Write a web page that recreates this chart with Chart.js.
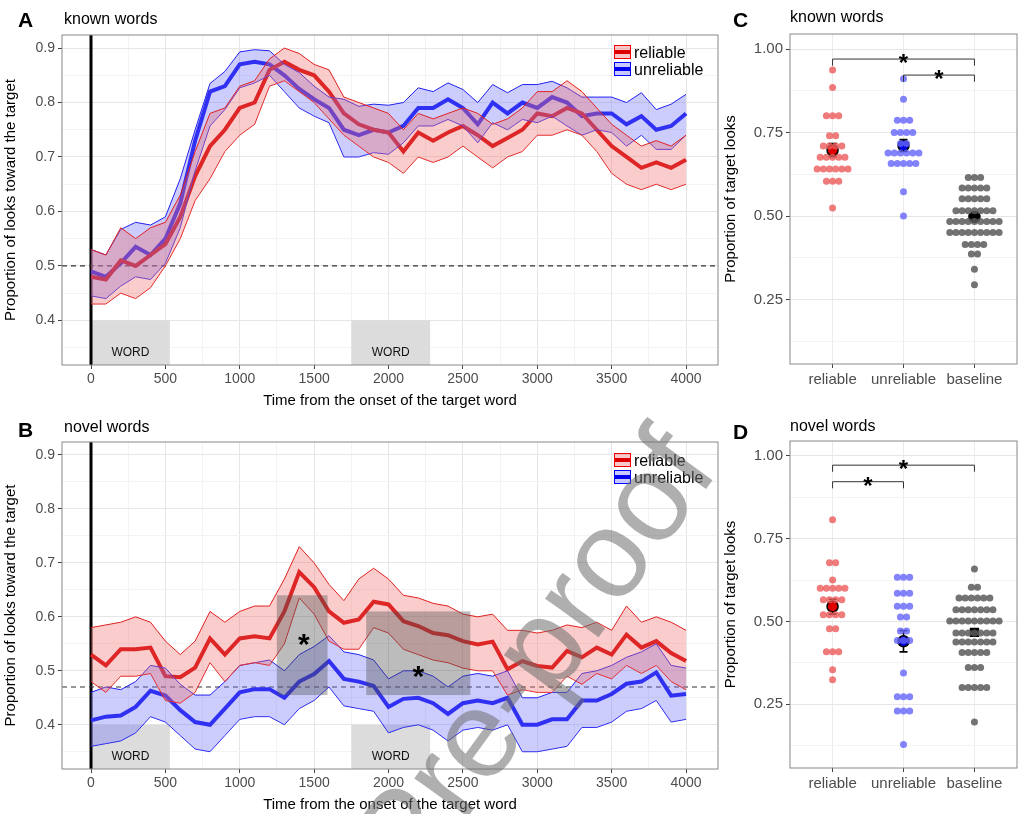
<!DOCTYPE html>
<html lang="en">
<head>
<meta charset="UTF-8">
<title>Looks toward the target</title>
<script src="https://cdn.jsdelivr.net/npm/chart.js"></script>
<style>
  body { margin: 0; background: #fff; font-family: "Liberation Sans", Arial, sans-serif; }
  #wrap { position: relative; width: 1024px; height: 814px; overflow: hidden; }
  canvas { position: absolute; }
  .lab { position: absolute; font-weight: bold; font-size: 21px; }
  .ttl { position: absolute; font-size: 16px; }
  .legend { position: absolute; font-size: 16px; line-height: 17px; }
  .key { display: inline-block; width: 15px; height: 12px; vertical-align: -1px; margin-right: 3px; position: relative; }
  .key i { position: absolute; left: 0; right: 0; top: 4px; height: 4px; }
  #wm { position: absolute; right: 290px; top: 360px; height: 120px; line-height: 120px; font-size: 125px; color: rgba(110,110,110,0.55);
        transform: rotate(-54deg); transform-origin: right bottom; white-space: nowrap; font-family: "Liberation Sans", sans-serif; }
</style>
</head>
<body>
<div id="wrap">
  <canvas id="cA" style="left:0;top:0" width="720" height="410"></canvas>
  <canvas id="cB" style="left:0;top:407px" width="720" height="407"></canvas>
  <canvas id="cC" style="left:720px;top:0" width="304" height="410"></canvas>
  <canvas id="cD" style="left:720px;top:407px" width="304" height="407"></canvas>
  <div class="lab" style="left:18px;top:8px">A</div><div class="ttl" style="left:64px;top:10px">known words</div>
  <div class="lab" style="left:18px;top:418px">B</div><div class="ttl" style="left:64px;top:418px">novel words</div>
  <div class="lab" style="left:733px;top:8px">C</div><div class="ttl" style="left:790px;top:8px">known words</div>
  <div class="lab" style="left:733px;top:420px">D</div><div class="ttl" style="left:790px;top:417px">novel words</div>
  <div class="legend" style="left:614px;top:44px">
    <div><span class="key" style="background:rgba(240,120,120,.4);border:1px solid #e00"><i style="background:#d00"></i></span>reliable</div>
    <div><span class="key" style="background:rgba(120,120,255,.4);border:1px solid #00f"><i style="background:#00e"></i></span>unreliable</div>
  </div>
  <div class="legend" style="left:614px;top:452px">
    <div><span class="key" style="background:rgba(240,120,120,.4);border:1px solid #e00"><i style="background:#d00"></i></span>reliable</div>
    <div><span class="key" style="background:rgba(120,120,255,.4);border:1px solid #00f"><i style="background:#00e"></i></span>unreliable</div>
  </div>
  <div id="wm">Journal Pre-proof</div>
</div>
<script>
// time points (ms)
const times = [0,100,200,300,400,500,600,700,800,900,1000,1100,1200,1300,1400,1500,1600,1700,1800,1900,2000,
  2100,2200,2300,2400,2500,2600,2700,2800,2900,3000,3100,3200,3300,3400,3500,3600,3700,3800,3900,4000];

// A: known words
const aRelMean = [0.48,0.475,0.51,0.50,0.52,0.54,0.59,0.665,0.72,0.75,0.79,0.80,0.86,0.875,0.86,0.85,0.82,0.78,0.76,0.75,0.745,0.71,0.745,0.73,0.745,0.757,0.74,0.72,0.735,0.75,0.78,0.775,0.79,0.78,0.75,0.72,0.70,0.68,0.69,0.68,0.695];
const aRelHi = [0.53,0.52,0.57,0.55,0.57,0.58,0.63,0.71,0.78,0.79,0.83,0.84,0.88,0.90,0.89,0.87,0.86,0.81,0.80,0.79,0.78,0.75,0.78,0.77,0.78,0.79,0.78,0.76,0.77,0.79,0.82,0.82,0.84,0.82,0.79,0.76,0.74,0.72,0.73,0.72,0.74];
const aRelLo = [0.43,0.43,0.45,0.44,0.46,0.50,0.55,0.62,0.66,0.71,0.74,0.76,0.83,0.84,0.82,0.80,0.77,0.74,0.72,0.70,0.69,0.67,0.70,0.69,0.70,0.72,0.70,0.68,0.70,0.71,0.74,0.74,0.75,0.74,0.71,0.67,0.65,0.64,0.65,0.64,0.65];
const aUnrMean = [0.49,0.48,0.505,0.535,0.52,0.55,0.615,0.73,0.82,0.83,0.87,0.875,0.87,0.85,0.825,0.806,0.79,0.75,0.74,0.75,0.745,0.757,0.79,0.79,0.806,0.79,0.76,0.80,0.78,0.80,0.79,0.81,0.80,0.775,0.78,0.78,0.76,0.775,0.75,0.757,0.78];
const aUnrHi = [0.53,0.52,0.567,0.58,0.575,0.59,0.66,0.75,0.835,0.857,0.893,0.897,0.895,0.87,0.855,0.83,0.81,0.806,0.793,0.797,0.795,0.80,0.827,0.82,0.836,0.824,0.80,0.833,0.818,0.833,0.833,0.839,0.827,0.81,0.81,0.81,0.80,0.818,0.787,0.797,0.815];
const aUnrLo = [0.445,0.44,0.463,0.48,0.475,0.505,0.57,0.675,0.757,0.787,0.827,0.836,0.85,0.82,0.79,0.775,0.763,0.70,0.70,0.708,0.705,0.726,0.757,0.757,0.769,0.757,0.726,0.763,0.75,0.769,0.763,0.775,0.757,0.74,0.75,0.745,0.72,0.74,0.714,0.714,0.74];

// B: novel words
const bRelMean = [0.53,0.51,0.54,0.54,0.543,0.49,0.488,0.506,0.56,0.53,0.56,0.564,0.56,0.61,0.683,0.655,0.61,0.589,0.595,0.628,0.623,0.592,0.583,0.57,0.566,0.555,0.549,0.554,0.503,0.518,0.509,0.506,0.537,0.525,0.543,0.53,0.567,0.543,0.555,0.533,0.518];
const bRelHi = [0.58,0.585,0.59,0.60,0.59,0.555,0.53,0.555,0.61,0.59,0.61,0.62,0.62,0.67,0.73,0.70,0.66,0.63,0.67,0.69,0.67,0.64,0.635,0.625,0.62,0.605,0.60,0.605,0.575,0.575,0.57,0.575,0.585,0.58,0.59,0.575,0.62,0.59,0.60,0.59,0.575];
const bRelLo = [0.48,0.46,0.49,0.49,0.495,0.445,0.44,0.46,0.515,0.48,0.51,0.515,0.51,0.55,0.635,0.605,0.555,0.54,0.54,0.58,0.57,0.54,0.53,0.52,0.515,0.505,0.50,0.50,0.455,0.465,0.46,0.46,0.49,0.475,0.495,0.485,0.51,0.495,0.51,0.48,0.465];
const bUnrMean = [0.408,0.415,0.417,0.433,0.463,0.454,0.427,0.405,0.40,0.43,0.46,0.466,0.466,0.45,0.48,0.494,0.518,0.485,0.48,0.472,0.433,0.448,0.45,0.44,0.42,0.44,0.445,0.44,0.45,0.40,0.40,0.41,0.41,0.445,0.445,0.457,0.476,0.48,0.497,0.454,0.457];
const bUnrHi = [0.46,0.47,0.465,0.48,0.51,0.505,0.475,0.455,0.455,0.48,0.51,0.515,0.52,0.50,0.53,0.545,0.565,0.535,0.53,0.52,0.485,0.50,0.50,0.49,0.47,0.49,0.495,0.49,0.50,0.45,0.45,0.46,0.46,0.495,0.50,0.51,0.525,0.535,0.55,0.51,0.505];
const bUnrLo = [0.36,0.365,0.37,0.385,0.415,0.405,0.38,0.355,0.35,0.38,0.41,0.415,0.415,0.40,0.43,0.445,0.47,0.435,0.43,0.425,0.385,0.395,0.40,0.39,0.37,0.39,0.395,0.39,0.40,0.35,0.35,0.355,0.36,0.395,0.395,0.405,0.425,0.43,0.445,0.405,0.41];

const wordWindows = [[0, 530], [1750, 2280]];
const sigWindowsB = [[1250, 1590, 0.455, 0.64], [1850, 2550, 0.455, 0.61]];
const sigStarsB = [[1430, 0.565], [2200, 0.505]];

// C / D: per-child proportions
const groups = ['reliable', 'unreliable', 'baseline'];
const cRel = [0.937,0.885,0.80,0.80,0.80,0.74,0.74,0.71,0.71,0.71,0.71,0.676,0.676,0.676,0.676,0.676,0.641,0.641,0.641,0.641,0.641,0.641,0.604,0.604,0.604,0.524];
const cUnr = [0.911,0.85,0.787,0.787,0.787,0.75,0.75,0.75,0.75,0.717,0.717,0.689,0.689,0.689,0.689,0.689,0.689,0.657,0.657,0.657,0.657,0.657,0.573,0.50];
const cBase = [0.615,0.615,0.615,0.584,0.584,0.584,0.584,0.584,0.552,0.552,0.552,0.552,0.552,0.516,0.516,0.516,0.516,0.516,0.516,0.516,
  0.484,0.484,0.484,0.484,0.484,0.484,0.484,0.484,0.484,0.451,0.451,0.451,0.451,0.451,0.451,0.451,0.451,0.451,0.415,0.415,0.415,0.415,0.386,0.386,0.341,0.294];
const cMeans = [0.697, 0.711, 0.497];
const cErrLo = [0.678, 0.693, 0.490];
const cErrHi = [0.717, 0.729, 0.504];

const dRel = [0.807,0.677,0.677,0.625,0.60,0.60,0.60,0.60,0.60,0.565,0.565,0.565,0.565,0.52,0.52,0.52,0.52,0.478,0.478,0.408,0.408,0.408,0.354,0.324];
const dUnr = [0.633,0.633,0.633,0.585,0.585,0.585,0.546,0.546,0.546,0.513,0.513,0.471,0.471,0.442,0.442,0.442,0.344,0.272,0.272,0.272,0.229,0.229,0.229,0.128];
const dBase = [0.658,0.603,0.603,0.571,0.571,0.571,0.571,0.571,0.571,0.535,0.535,0.535,0.535,0.535,0.535,0.535,
  0.501,0.501,0.501,0.501,0.501,0.501,0.501,0.501,0.501,0.465,0.465,0.465,0.465,0.465,0.465,0.465,
  0.438,0.438,0.438,0.438,0.438,0.438,0.438,0.406,0.406,0.406,0.406,0.406,0.361,0.361,0.361,0.30,0.30,0.30,0.30,0.30,0.196];
const dMeans = [0.545, 0.440, 0.467];
const dErrLo = [0.522, 0.408, 0.457];
const dErrHi = [0.567, 0.472, 0.477];

const RED = '#d40000', BLUE = '#1010ee';
const TXT = '#4d4d4d';

function pts(ys) { return times.map((t, i) => ({ x: t, y: ys[i] })); }

function timeChart(id, series, refY, sig, stars) {
  const ymin = 0.318, ymax = 0.924;
  const ds = [];
  series.forEach(s => {
    ds.push({ data: pts(s.hi), borderColor: s.edge, borderWidth: 1, backgroundColor: s.fill, fill: '+1', pointRadius: 0, tension: 0 });
    ds.push({ data: pts(s.lo), borderColor: s.edge, borderWidth: 1, fill: false, pointRadius: 0, tension: 0 });
  });
  series.forEach(s => {
    ds.push({ data: pts(s.mean), borderColor: s.line, borderWidth: 4, fill: false, pointRadius: 0, tension: 0 });
  });
  ds.push({ data: [{ x: -195, y: refY }, { x: 4215, y: refY }], borderColor: '#333', borderWidth: 1.2, borderDash: [5, 4], pointRadius: 0, fill: false });
  ds.push({ data: [{ x: 0, y: ymin }, { x: 0, y: ymax }], borderColor: '#000', borderWidth: 3, pointRadius: 0, fill: false });

  const deco = {
    id: 'deco',
    beforeDatasetsDraw(c) {
      const x = c.scales.x, y = c.scales.y, g = c.ctx;
      g.save();
      wordWindows.forEach(w => {
        const x0 = x.getPixelForValue(w[0]), x1 = x.getPixelForValue(w[1]);
        const y0 = y.getPixelForValue(0.4), y1 = y.getPixelForValue(ymin);
        g.fillStyle = '#dcdcdc';
        g.fillRect(x0, y0, x1 - x0, y1 - y0);
        g.fillStyle = '#111'; g.font = '12px "Liberation Sans"'; g.textAlign = 'center';
        g.fillText('WORD', (x0 + x1) / 2, y1 - 9);
      });
      g.restore();
    },
    afterDatasetsDraw(c) {
      const x = c.scales.x, y = c.scales.y, g = c.ctx, a = c.chartArea;
      g.save();
      sig.forEach(w => {
        const x0 = x.getPixelForValue(w[0]), x1 = x.getPixelForValue(w[1]);
        const y0 = y.getPixelForValue(w[3]), y1 = y.getPixelForValue(w[2]);
        g.fillStyle = 'rgba(80,80,80,0.38)';
        g.fillRect(x0, y0, x1 - x0, y1 - y0);
      });
      g.fillStyle = '#000'; g.font = 'bold 30px "Liberation Sans"'; g.textAlign = 'center';
      stars.forEach(s => g.fillText('*', x.getPixelForValue(s[0]), y.getPixelForValue(s[1]) + 18));
      g.strokeStyle = '#888'; g.lineWidth = 1;
      g.strokeRect(a.left, a.top, a.right - a.left, a.bottom - a.top);
      g.restore();
    }
  };

  new Chart(document.getElementById(id), {
    type: 'line',
    data: { datasets: ds },
    plugins: [deco],
    options: {
      responsive: false, animation: false,
      layout: { padding: { top: 35, right: 2 } },
      plugins: { legend: { display: false }, tooltip: { enabled: false } },
      scales: {
        x: {
          type: 'linear', min: -195, max: 4215,
          afterBuildTicks: ax => { ax.ticks = []; for (let v = 0; v <= 4000; v += 250) ax.ticks.push({ value: v }); },
          afterFit: ax => { ax.height = 45; },
          ticks: { autoSkip: false, maxRotation: 0, color: TXT, font: { size: 14, family: 'Liberation Sans' }, padding: 2,
                   callback: v => v % 500 === 0 ? v : '' },
          grid: { color: c => c.tick && c.tick.value % 500 === 0 ? '#e6e6e6' : '#f3f3f3', tickLength: 4,
                  tickColor: c => c.tick && c.tick.value % 500 === 0 ? '#444' : 'rgba(0,0,0,0)' },
          border: { display: false },
          title: { display: true, text: 'Time from the onset of the target word', color: '#000', font: { size: 15, family: 'Liberation Sans' }, padding: 0 }
        },
        y: {
          min: ymin, max: ymax,
          afterBuildTicks: ax => { ax.ticks = []; for (let k = 7; k <= 18; k++) ax.ticks.push({ value: k / 20 }); },
          afterFit: ax => { ax.width = 62; },
          ticks: { autoSkip: false, color: TXT, font: { size: 14, family: 'Liberation Sans' }, padding: 3,
                   callback: v => Math.round(v * 20) % 2 === 0 ? v.toFixed(1) : '' },
          grid: { color: c => c.tick && Math.round(c.tick.value * 20) % 2 === 0 ? '#e6e6e6' : '#f3f3f3', tickLength: 4,
                  tickColor: c => c.tick && Math.round(c.tick.value * 20) % 2 === 0 ? '#444' : 'rgba(0,0,0,0)' },
          border: { display: false },
          title: { display: true, text: 'Proportion of looks toward the target', color: '#000', font: { size: 15, family: 'Liberation Sans' }, padding: 2 }
        }
      }
    }
  });
}

const redStyle = { line: RED, edge: '#e02020', fill: 'rgba(240,110,110,0.35)' };
const blueStyle = { line: BLUE, edge: '#2020f0', fill: 'rgba(110,110,250,0.35)' };

timeChart('cA', [
  Object.assign({ mean: aRelMean, hi: aRelHi, lo: aRelLo }, redStyle),
  Object.assign({ mean: aUnrMean, hi: aUnrHi, lo: aUnrLo }, blueStyle)
], 0.5, [], []);
timeChart('cB', [
  Object.assign({ mean: bRelMean, hi: bRelHi, lo: bRelLo }, redStyle),
  Object.assign({ mean: bUnrMean, hi: bUnrHi, lo: bUnrLo }, blueStyle)
], 0.47, sigWindowsB, sigStarsB);

// beeswarm-style horizontal spreading of identical values
function swarm(vals, center) {
  const out = [];
  const counts = {};
  vals.forEach(v => { counts[v] = (counts[v] || 0) + 1; });
  const seen = {};
  vals.forEach(v => {
    const n = counts[v], i = seen[v] || 0; seen[v] = i + 1;
    out.push({ x: center + (i - (n - 1) / 2) * 0.087, y: v });
  });
  return out;
}

function dotChart(id, sets, means, lo, hi, brackets, baseSquare) {
  const cols = ['rgba(235,90,90,0.8)', 'rgba(100,100,250,0.8)', 'rgba(90,90,90,0.85)'];
  const meanFill = ['#e00000', '#0000e0', '#000'];
  const ds = sets.map((s, i) => ({ type: 'scatter', data: swarm(s, i + 1), backgroundColor: cols[i], borderWidth: 0, pointRadius: 3.5 }));
  ds.push({
    type: 'scatter', data: means.map((m, i) => ({ x: i + 1, y: m })),
    backgroundColor: meanFill, borderColor: '#000', borderWidth: 1.5,
    pointRadius: 5.5, pointStyle: means.map((m, i) => (i === 2 && baseSquare) ? 'rect' : 'circle')
  });
  const deco = {
    id: 'deco2',
    beforeDatasetsDraw(c) {
      const x = c.scales.x, y = c.scales.y, g = c.ctx;
      g.save(); g.strokeStyle = '#000'; g.lineWidth = 1.6;
      means.forEach((m, i) => {
        const px = x.getPixelForValue(i + 1), p0 = y.getPixelForValue(lo[i]), p1 = y.getPixelForValue(hi[i]);
        g.beginPath(); g.moveTo(px, p0); g.lineTo(px, p1);
        g.moveTo(px - 4, p0); g.lineTo(px + 4, p0); g.moveTo(px - 4, p1); g.lineTo(px + 4, p1); g.stroke();
      });
      g.restore();
    },
    afterDatasetsDraw(c) {
      const x = c.scales.x, y = c.scales.y, g = c.ctx, a = c.chartArea;
      g.save(); g.strokeStyle = '#333'; g.lineWidth = 1;
      brackets.forEach(b => {
        const x0 = x.getPixelForValue(b[0]), x1 = x.getPixelForValue(b[1]);
        const yt = y.getPixelForValue(b[2]), yb = y.getPixelForValue(b[2] - 0.02);
        g.beginPath(); g.moveTo(x0, yb); g.lineTo(x0, yt); g.lineTo(x1, yt); g.lineTo(x1, yb); g.stroke();
        g.fillStyle = '#000'; g.font = 'bold 24px "Liberation Sans"'; g.textAlign = 'center';
        g.fillText('*', (x0 + x1) / 2, yt + 12);
      });
      g.strokeStyle = '#888';
      g.strokeRect(a.left, a.top, a.right - a.left, a.bottom - a.top);
      g.restore();
    }
  };
  new Chart(document.getElementById(id), {
    type: 'scatter',
    data: { datasets: ds },
    plugins: [deco],
    options: {
      responsive: false, animation: false,
      layout: { padding: { top: 34, right: 4 } },
      plugins: { legend: { display: false }, tooltip: { enabled: false } },
      scales: {
        x: {
          type: 'linear', min: 0.4, max: 3.6,
          afterBuildTicks: ax => { ax.ticks = [1, 2, 3].map(v => ({ value: v })); },
          afterFit: ax => { ax.height = 46; },
          ticks: { autoSkip: false, maxRotation: 0, color: TXT, font: { size: 15, family: 'Liberation Sans' }, padding: 3,
                   callback: v => groups[v - 1] },
          grid: { color: '#ebebeb', tickLength: 4, tickColor: '#444' },
          border: { display: false }
        },
        y: {
          min: 0.057, max: 1.045,
          afterBuildTicks: ax => { ax.ticks = []; for (let k = 1; k <= 8; k++) ax.ticks.push({ value: k / 8 }); },
          afterFit: ax => { ax.width = 70; },
          ticks: { autoSkip: false, color: TXT, font: { size: 15, family: 'Liberation Sans' }, padding: 3,
                   callback: v => Math.round(v * 8) % 2 === 0 ? v.toFixed(2) : '' },
          grid: { color: c => c.tick && Math.round(c.tick.value * 8) % 2 === 0 ? '#e6e6e6' : '#f3f3f3', tickLength: 4,
                  tickColor: c => c.tick && Math.round(c.tick.value * 8) % 2 === 0 ? '#444' : 'rgba(0,0,0,0)' },
          border: { display: false },
          title: { display: true, text: 'Proportion of target looks', color: '#000', font: { size: 15, family: 'Liberation Sans' }, padding: 2 }
        }
      }
    }
  });
}

dotChart('cC', [cRel, cUnr, cBase], cMeans, cErrLo, cErrHi, [[1, 3, 0.97], [2, 3, 0.922]], false);
dotChart('cD', [dRel, dUnr, dBase], dMeans, dErrLo, dErrHi, [[1, 3, 0.972], [1, 2, 0.922]], true);
</script>
</body>
</html>
